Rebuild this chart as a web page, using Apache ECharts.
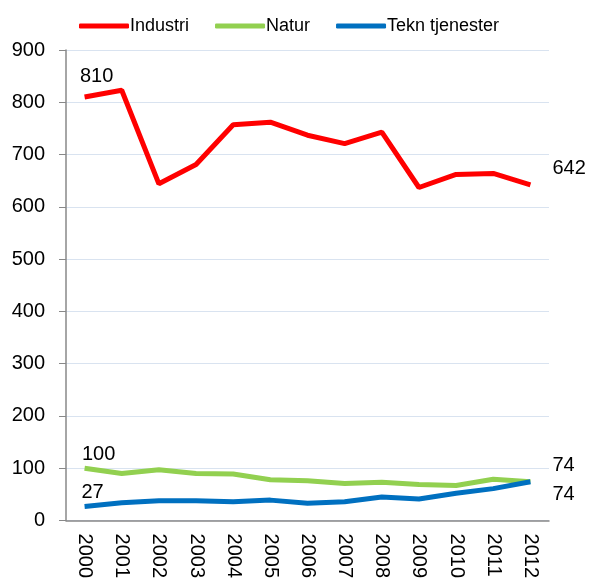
<!DOCTYPE html>
<html><head><meta charset="utf-8">
<script src="https://cdn.jsdelivr.net/npm/echarts@6/dist/echarts.min.js"></script>
<style>html,body{margin:0;padding:0;background:#fff}#c{width:590px;height:581px}</style>
</head><body><div id="c"></div>
<script>
const years = ['2000','2001','2002','2003','2004','2005','2006','2007','2008','2009','2010','2011','2012'];
const industri = [810,823,644,681,757,762,737,721,743,637,662,664,642];
const natur = [100,90,97,90,89,78,76,71,73,69,67,79,74];
const tekn = [27,34,38,38,36,39,33,36,45,41,52,61,74];
const yTicks = [0,100,200,300,400,500,600,700,800,900];

const font = 'Liberation Sans, Arial, sans-serif';
function withLabels(arr, firstOff, lastOff) {
  return arr.map((v, i) => {
    if (i === 0) return {value: v, label: {show: true, position: 'top', offset: firstOff}};
    if (i === arr.length - 1) return {value: v, label: {show: true, position: 'right', offset: lastOff}};
    return v;
  });
}
const common = {
  type: 'line', symbol: 'circle', symbolSize: 0, showSymbol: true,
  label: {fontFamily: font, fontSize: 20, color: '#000'}
};
const chart = echarts.init(document.getElementById('c'));
chart.setOption({
  animation: false,
  legend: {
    top: 12, left: 74, itemWidth: 50, itemHeight: 5, itemGap: 26,
    icon: 'roundRect',
    textStyle: {fontFamily: font, fontSize: 18, color: '#000', padding: [0,0,0,-4]},
    data: ['Industri','Natur','Tekn tjenester']
  },
  grid: {left: 66, right: 41, top: 50, bottom: 60, containLabel: false},
  xAxis: {
    type: 'category', data: years, boundaryGap: true,
    axisLine: {lineStyle: {color: '#888', width: 1.5}},
    axisTick: {show: false},
    axisLabel: {rotate: -90, fontFamily: font, fontSize: 20, color: '#000', margin: 13}
  },
  yAxis: {
    type: 'value', min: yTicks[0], max: yTicks[yTicks.length-1], interval: 100,
    axisLine: {show: true, lineStyle: {color: '#888', width: 1.5}},
    axisTick: {show: true, length: 7, lineStyle: {color: '#888'}},
    axisLabel: {fontFamily: font, fontSize: 20, color: '#000', margin: 21},
    splitLine: {lineStyle: {color: '#d9e3f0', width: 1}}
  },
  series: [
    Object.assign({}, common, {name: 'Industri', data: withLabels(industri, [12, -6], [17, -16]),
     lineStyle: {width: 5, color: '#ff0000'}, itemStyle: {color: '#ff0000'}}),
    Object.assign({}, common, {name: 'Natur', data: withLabels(natur, [14, 1], [17, -16]),
     lineStyle: {width: 5, color: '#92d050'}, itemStyle: {color: '#92d050'}}),
    Object.assign({}, common, {name: 'Tekn tjenester', data: withLabels(tekn, [8, 1], [17, 13]),
     lineStyle: {width: 5, color: '#0070c0'}, itemStyle: {color: '#0070c0'}})
  ]
});
</script></body></html>
